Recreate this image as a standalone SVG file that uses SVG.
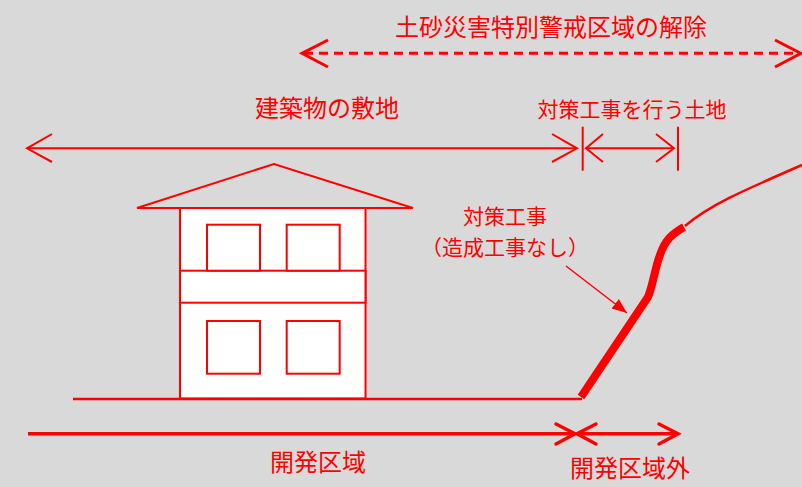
<svg xmlns="http://www.w3.org/2000/svg" width="802" height="487" viewBox="0 0 802 487">
<style>
text{font-family:"Noto Sans CJK JP","Noto Sans CJK SC",sans-serif;fill:#ff0000;text-anchor:middle}
.big{font-size:24px}
.sm{font-size:21px}
.ln{stroke:#ff0000;fill:none}
.h{stroke:#ff0000;stroke-width:2;fill:#ffffff}
</style>
<defs>
<marker id="tri" markerUnits="userSpaceOnUse" markerWidth="16" markerHeight="14" refX="15" refY="6" orient="auto" viewBox="0 0 16 12">
<path d="M0,0 L15,6 L0,12 Z" fill="#ff0000"/>
</marker>
</defs>
<rect width="802" height="487" fill="#d9d9d9"/>

<g id="house">
<polygon class="ln" points="137,208 274,164 413,208" stroke-width="2"/>
<rect class="h" x="180" y="208" width="185.5" height="190.5"/>
<rect class="h" x="180" y="270.7" width="185.5" height="32"/>
<rect class="h" x="207" y="224.7" width="53" height="46"/>
<rect class="h" x="286.7" y="224.7" width="53" height="46"/>
<rect class="h" x="207" y="321" width="53" height="52.7"/>
<rect class="h" x="286.7" y="321" width="53" height="52.7"/>
</g>

<g id="ground">
<line class="ln" x1="73" y1="399" x2="582" y2="399" stroke-width="2.5"/>
<path class="ln" d="M581,397 L648,297 C653,285 655,268 660,255 C665,240 672,234 684,227" stroke-width="8"/>
<path class="ln" d="M685,226 C710,205 740,192 802,165" stroke-width="2.5"/>
</g>

<g id="connectors">
<!-- top dashed arrow -->
<line class="ln" x1="304" y1="53.3" x2="799" y2="53.3" stroke-width="3" stroke-dasharray="9,6"/>
<polyline class="ln" points="328,40 302,53.3 328,67" stroke-width="3"/>
<polyline class="ln" points="775,40 801,53.3 775,67" stroke-width="3"/>
<!-- building site arrow -->
<line class="ln" x1="28" y1="148.3" x2="576" y2="148.3" stroke-width="2"/>
<polyline class="ln" points="52,134 27,148.3 52,162" stroke-width="2"/>
<polyline class="ln" points="552,134 577,148.3 552,162" stroke-width="2"/>
<line class="ln" x1="582.7" y1="126.7" x2="582.7" y2="170.7" stroke-width="2"/>
<!-- works land arrow -->
<line class="ln" x1="587" y1="148.3" x2="673" y2="148.3" stroke-width="2"/>
<polyline class="ln" points="603,134 586,148.3 603,162" stroke-width="2"/>
<polyline class="ln" points="656,134 674,148.3 656,162" stroke-width="2"/>
<line class="ln" x1="678" y1="126.7" x2="678" y2="170.7" stroke-width="2"/>
<!-- development area arrow -->
<line class="ln" x1="28" y1="433.7" x2="574" y2="433.7" stroke-width="3.5"/>
<polyline class="ln" points="556,424 575,433.7 556,444" stroke-width="3.5" stroke-linecap="round"/>
<!-- outside arrow -->
<line class="ln" x1="578" y1="433.7" x2="676" y2="433.7" stroke-width="3.5"/>
<polyline class="ln" points="596,424 577,433.7 596,444" stroke-width="3.5" stroke-linecap="round"/>
<polyline class="ln" points="659,424 678,433.7 659,444" stroke-width="3.5" stroke-linecap="round"/>
<!-- pointer -->
<line class="ln" x1="566" y1="266" x2="627" y2="313" stroke-width="1.5" marker-end="url(#tri)"/>
</g>

<g id="labels">
<text class="big" x="551" y="36">土砂災害特別警戒区域の解除</text>
<text class="big" x="327" y="117">建築物の敷地</text>
<text class="sm" x="632" y="117">対策工事を行う土地</text>
<text class="sm" x="505" y="224">対策工事</text>
<text class="sm" x="505" y="255">（造成工事なし）</text>
<text class="big" x="318" y="471">開発区域</text>
<text class="big" x="630" y="477">開発区域外</text>
</g>
</svg>
